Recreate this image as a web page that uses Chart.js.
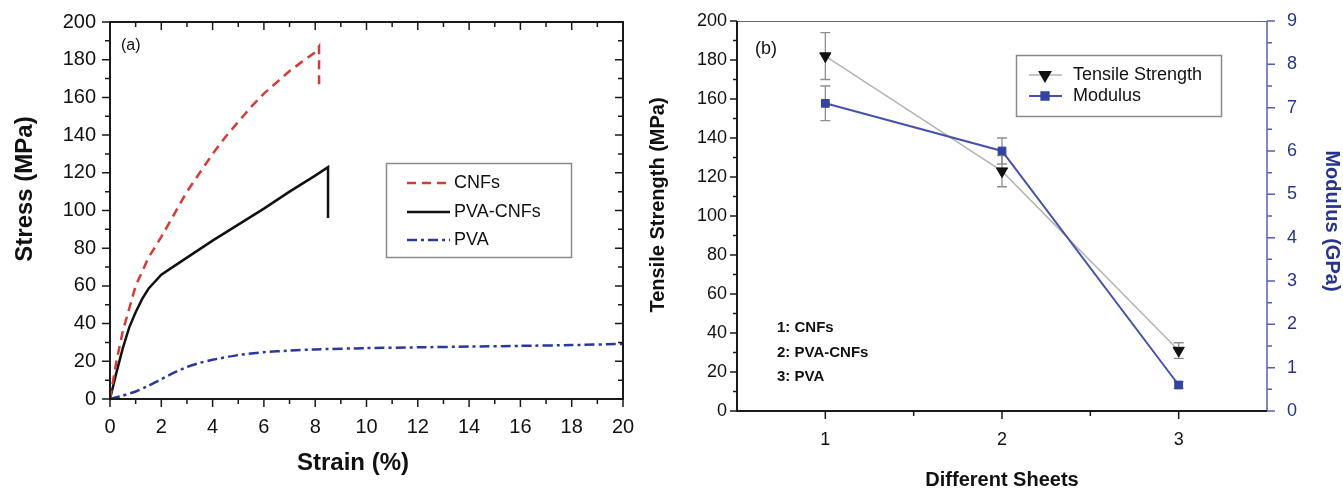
<!DOCTYPE html>
<html>
<head>
<meta charset="utf-8">
<script src="https://cdn.jsdelivr.net/npm/chart.js@4.4.1/dist/chart.umd.min.js"></script>
<style>
  html, body { margin: 0; padding: 0; background: #fff; }
  #wrap { position: relative; width: 1343px; height: 490px; }
  canvas { position: absolute; top: 0; }
  #chart-a { left: 0; }
  #chart-b { left: 640px; }
</style>
</head>
<body>
<div id="wrap">
  <canvas id="chart-a" width="640" height="490"></canvas>
  <canvas id="chart-b" width="703" height="490"></canvas>
</div>
<script>
// (a) stress vs strain
const cnfStrain = [0, 0.25, 0.5, 0.75, 1, 1.5, 2, 2.5, 3, 3.5, 4, 4.5, 5, 5.5, 6, 6.5, 7, 7.5, 8, 8.15, 8.15];
const cnfStress = [0, 20, 36, 48, 60, 75, 86, 98, 110, 120, 130, 139, 147, 155, 162, 168, 174, 179, 184, 187, 164];

const pvaCnfStrain = [0, 0.25, 0.5, 0.75, 1, 1.25, 1.5, 2, 2.5, 3, 3.5, 4, 5, 6, 7, 8, 8.5, 8.5];
const pvaCnfStress = [0, 14, 27, 38, 46, 53, 58.5, 66, 70.5, 75, 79.5, 84, 92.5, 101, 110, 118.5, 123, 96];

const pvaStrain = [0, 0.5, 1, 1.5, 2, 2.5, 3, 3.5, 4, 5, 6, 7, 8, 10, 12, 14, 16, 18, 20];
const pvaStress = [0, 1.8, 4, 7, 10.5, 14, 17, 19.2, 20.8, 23.3, 24.8, 25.7, 26.3, 27, 27.4, 27.8, 28.2, 28.6, 29.2];

// (b) properties of the three sheets
const sheets = [1, 2, 3];
const sheetNames = ['1: CNFs', '2: PVA-CNFs', '3: PVA'];
const tensileStrength = [182, 123, 31];
const tensileErr = [12, 8, 4];
const modulus = [7.1, 6.0, 0.6];
const modulusErr = [0.4, 0.3, 0.08];

const FONT = "'Liberation Sans', Arial, sans-serif";
const BLUE_AXIS = '#5560b2';
const BLUE_TEXT = '#28338e';

const toPoints = (xs, ys) => xs.map((x, i) => ({ x: x, y: ys[i] }));

// fix an axis box size and drop the extra label padding chart.js adds
function fixBox(size) {
    return s => {
        if (s.isHorizontal()) s.height = size; else s.width = size;
        s.paddingTop = s.paddingBottom = s.paddingLeft = s.paddingRight = 0;
    };
}

function minorValues(scale) {
    const v = scale.ticks.map(t => t.value);
    const out = [];
    for (let i = 0; i < v.length - 1; i++) out.push((v[i] + v[i + 1]) / 2);
    return out;
}

function drawTicks(ctx, scale, horizontal, pos, values, len, dir, color, width) {
    ctx.save();
    ctx.strokeStyle = color;
    ctx.lineWidth = width;
    ctx.beginPath();
    values.forEach(v => {
        const p = scale.getPixelForValue(v);
        if (horizontal) { ctx.moveTo(p, pos); ctx.lineTo(p, pos + dir * len); }
        else { ctx.moveTo(pos, p); ctx.lineTo(pos + dir * len, p); }
    });
    ctx.stroke();
    ctx.restore();
}

function text(ctx, str, x, y, font, color, align, rot) {
    ctx.save();
    ctx.translate(x, y);
    if (rot) ctx.rotate(rot);
    ctx.font = font;
    ctx.fillStyle = color;
    ctx.textAlign = align || 'center';
    ctx.textBaseline = 'middle';
    ctx.fillText(str, 0, 0);
    ctx.restore();
}

// frame, ticks, titles and legend for (a)
const decorA = {
    id: 'decorA',
    afterDraw(chart) {
        const { ctx, chartArea: a, scales: { x, y } } = chart;
        const xs = x.ticks.map(t => t.value), ys = y.ticks.map(t => t.value);
        const xm = minorValues(x), ym = minorValues(y);
        const c = '#1a1a1a';

        ctx.save();
        ctx.strokeStyle = c;
        ctx.lineWidth = 2;
        ctx.strokeRect(a.left, a.top, a.right - a.left, a.bottom - a.top);
        ctx.restore();

        drawTicks(ctx, x, true, a.bottom, xs, 8, 1, c, 1.5);
        drawTicks(ctx, x, true, a.bottom, xm, 5, 1, c, 1.5);
        drawTicks(ctx, x, true, a.top, xs, 8, 1, c, 1.5);
        drawTicks(ctx, x, true, a.top, xm, 5, 1, c, 1.5);
        drawTicks(ctx, y, false, a.left, ys, 8, -1, c, 1.5);
        drawTicks(ctx, y, false, a.left, ym, 5, -1, c, 1.5);
        drawTicks(ctx, y, false, a.right, ys, 8, -1, c, 1.5);
        drawTicks(ctx, y, false, a.right, ym, 5, -1, c, 1.5);

        text(ctx, 'Stress (MPa)', 25, 189, 'bold 24px ' + FONT, '#111', 'center', -Math.PI / 2);
        text(ctx, 'Strain (%)', 353, 463, 'bold 24px ' + FONT, '#111');
        text(ctx, '(a)', 121, 46, '16px ' + FONT, '#111', 'left');

        // legend box
        ctx.save();
        ctx.strokeStyle = '#8a8a8a';
        ctx.lineWidth = 1.5;
        ctx.strokeRect(386.5, 163.5, 185, 94);
        const rows = [183, 212, 240];
        chart.data.datasets.forEach((ds, i) => {
            ctx.save();
            ctx.strokeStyle = ds.borderColor;
            ctx.lineWidth = ds.borderWidth;
            ctx.setLineDash(ds.borderDash || []);
            ctx.beginPath();
            ctx.moveTo(407, rows[i]);
            ctx.lineTo(450, rows[i]);
            ctx.stroke();
            ctx.restore();
            text(ctx, ds.label, 454, rows[i], '18px ' + FONT, '#111', 'left');
        });
        ctx.restore();
    }
};

// error bars for (b)
const errorBars = {
    id: 'errorBars',
    beforeDatasetsDraw(chart) {
        const { ctx } = chart;
        chart.data.datasets.forEach((ds, i) => {
            const yScale = chart.scales[ds.yAxisID];
            const xScale = chart.scales.x;
            ctx.save();
            ctx.strokeStyle = '#8e8e8e';
            ctx.lineWidth = 1.3;
            ctx.beginPath();
            ds.data.forEach((p, j) => {
                const px = xScale.getPixelForValue(p.x);
                const top = yScale.getPixelForValue(p.y + ds.errors[j]);
                const bot = yScale.getPixelForValue(p.y - ds.errors[j]);
                ctx.moveTo(px, top); ctx.lineTo(px, bot);
                ctx.moveTo(px - 5, top); ctx.lineTo(px + 5, top);
                ctx.moveTo(px - 5, bot); ctx.lineTo(px + 5, bot);
            });
            ctx.stroke();
            ctx.restore();
        });
    }
};

// frame, ticks, titles, notes and legend for (b)
const decorB = {
    id: 'decorB',
    afterDraw(chart) {
        const { ctx, chartArea: a, scales: { x, y, y1 } } = chart;
        const c = '#1a1a1a';

        ctx.save();
        ctx.strokeStyle = '#666';
        ctx.lineWidth = 1;
        ctx.beginPath();
        ctx.moveTo(a.left, a.top + 0.5);
        ctx.lineTo(a.right, a.top + 0.5);
        ctx.stroke();
        ctx.strokeStyle = BLUE_AXIS;
        ctx.lineWidth = 1.5;
        ctx.beginPath();
        ctx.moveTo(a.right, a.top);
        ctx.lineTo(a.right, a.bottom);
        ctx.stroke();
        ctx.strokeStyle = c;
        ctx.lineWidth = 2;
        ctx.beginPath();
        ctx.moveTo(a.left, a.top);
        ctx.lineTo(a.left, a.bottom);
        ctx.lineTo(a.right, a.bottom);
        ctx.stroke();
        ctx.restore();

        drawTicks(ctx, x, true, a.bottom, x.ticks.map(t => t.value), 8, 1, c, 1.5);
        drawTicks(ctx, x, true, a.bottom, minorValues(x), 5, 1, c, 1.5);
        drawTicks(ctx, y, false, a.left, y.ticks.map(t => t.value), 7, -1, c, 1.5);
        drawTicks(ctx, y, false, a.left, minorValues(y), 4, -1, c, 1.5);
        drawTicks(ctx, y1, false, a.right, y1.ticks.map(t => t.value), 8, 1, BLUE_AXIS, 1.5);
        drawTicks(ctx, y1, false, a.right, minorValues(y1), 5, 1, BLUE_AXIS, 1.5);

        text(ctx, 'Tensile Strength (MPa)', 18, 205, 'bold 20px ' + FONT, '#111', 'center', -Math.PI / 2);
        text(ctx, 'Modulus (GPa)', 692, 221, 'bold 20px ' + FONT, BLUE_TEXT, 'center', Math.PI / 2);
        text(ctx, 'Different Sheets', 362, 480, 'bold 20px ' + FONT, '#111');
        text(ctx, '(b)', 115, 49, '18px ' + FONT, '#111', 'left');

        const noteRows = [328, 353, 377];
        sheetNames.forEach((s, i) => text(ctx, s, 137, noteRows[i], 'bold 15px ' + FONT, '#111', 'left'));

        // legend box
        ctx.save();
        ctx.strokeStyle = '#8a8a8a';
        ctx.lineWidth = 1.5;
        ctx.strokeRect(376.5, 55.5, 205, 61);
        const rows = [75, 96];
        chart.data.datasets.forEach((ds, i) => {
            ctx.save();
            ctx.strokeStyle = ds.borderColor;
            ctx.lineWidth = ds.borderWidth;
            ctx.beginPath();
            ctx.moveTo(389, rows[i]);
            ctx.lineTo(422, rows[i]);
            ctx.stroke();
            ctx.restore();
            ctx.fillStyle = ds.pointBackgroundColor;
            ctx.strokeStyle = ds.pointBorderColor;
            Chart.helpers.drawPoint(ctx, {
                pointStyle: ds.pointStyle,
                rotation: ds.pointRotation || 0,
                radius: ds.pointRadius,
                borderWidth: 1
            }, 405, rows[i]);
            text(ctx, ds.label, 433, rows[i], '18px ' + FONT, '#111', 'left');
        });
        ctx.restore();
    }
};

const tickFont = size => ({ family: FONT, size: size });

new Chart(document.getElementById('chart-a'), {
    type: 'line',
    data: {
        datasets: [
            { label: 'CNFs', data: toPoints(cnfStrain, cnfStress), borderColor: '#d43b36', borderDash: [9, 6], borderWidth: 2.5, pointRadius: 0, tension: 0 },
            { label: 'PVA-CNFs', data: toPoints(pvaCnfStrain, pvaCnfStress), borderColor: '#111111', borderWidth: 2.5, pointRadius: 0, tension: 0 },
            { label: 'PVA', data: toPoints(pvaStrain, pvaStress), borderColor: '#2a389e', borderDash: [10, 4, 3, 4], borderWidth: 2.5, pointRadius: 0, tension: 0.2 }
        ]
    },
    options: {
        responsive: false,
        animation: false,
        events: [],
        layout: { padding: { left: 0, right: 17, top: 22, bottom: 0 } },
        plugins: { legend: { display: false }, tooltip: { enabled: false } },
        scales: {
            x: {
                type: 'linear', min: 0, max: 20,
                ticks: { stepSize: 2, padding: 16, maxRotation: 0, autoSkip: false, color: '#111', font: tickFont(20) },
                grid: { display: false, drawTicks: false },
                border: { display: false },
                afterFit: fixBox(91)
            },
            y: {
                type: 'linear', min: 0, max: 200,
                ticks: { stepSize: 20, padding: 14, autoSkip: false, color: '#111', font: tickFont(20) },
                grid: { display: false, drawTicks: false },
                border: { display: false },
                afterFit: fixBox(110)
            }
        }
    },
    plugins: [decorA]
});

new Chart(document.getElementById('chart-b'), {
    type: 'line',
    data: {
        datasets: [
            {
                label: 'Tensile Strength', data: toPoints(sheets, tensileStrength), yAxisID: 'y', order: 1,
                borderColor: '#b4b4b4', borderWidth: 1.5, tension: 0,
                pointStyle: 'triangle', pointRotation: 180, pointRadius: 6.5,
                pointBackgroundColor: '#111', pointBorderColor: '#111', pointBorderWidth: 1,
                errors: tensileErr
            },
            {
                label: 'Modulus', data: toPoints(sheets, modulus), yAxisID: 'y1', order: 0,
                borderColor: '#4752ac', borderWidth: 2, tension: 0,
                pointStyle: 'rect', pointRadius: 5.5,
                pointBackgroundColor: '#3543a0', pointBorderColor: '#3543a0', pointBorderWidth: 1,
                errors: modulusErr
            }
        ]
    },
    options: {
        responsive: false,
        animation: false,
        events: [],
        layout: { padding: { left: 0, right: 0, top: 21, bottom: 0 } },
        plugins: { legend: { display: false }, tooltip: { enabled: false } },
        scales: {
            x: {
                type: 'linear', min: 0.5, max: 3.5,
                afterBuildTicks: s => { s.ticks = sheets.map(v => ({ value: v })); },
                ticks: { padding: 18, maxRotation: 0, autoSkip: false, color: '#111', font: tickFont(18) },
                grid: { display: false, drawTicks: false },
                border: { display: false },
                afterFit: fixBox(79)
            },
            y: {
                type: 'linear', position: 'left', min: 0, max: 200,
                ticks: { stepSize: 20, padding: 10, autoSkip: false, color: '#111', font: tickFont(18) },
                grid: { display: false, drawTicks: false },
                border: { display: false },
                afterFit: fixBox(97)
            },
            y1: {
                type: 'linear', position: 'right', min: 0, max: 9,
                ticks: { stepSize: 1, padding: 20, autoSkip: false, color: BLUE_TEXT, font: tickFont(18) },
                grid: { display: false, drawTicks: false },
                border: { display: false },
                afterFit: fixBox(76)
            }
        }
    },
    plugins: [errorBars, decorB]
});
</script>
</body>
</html>
